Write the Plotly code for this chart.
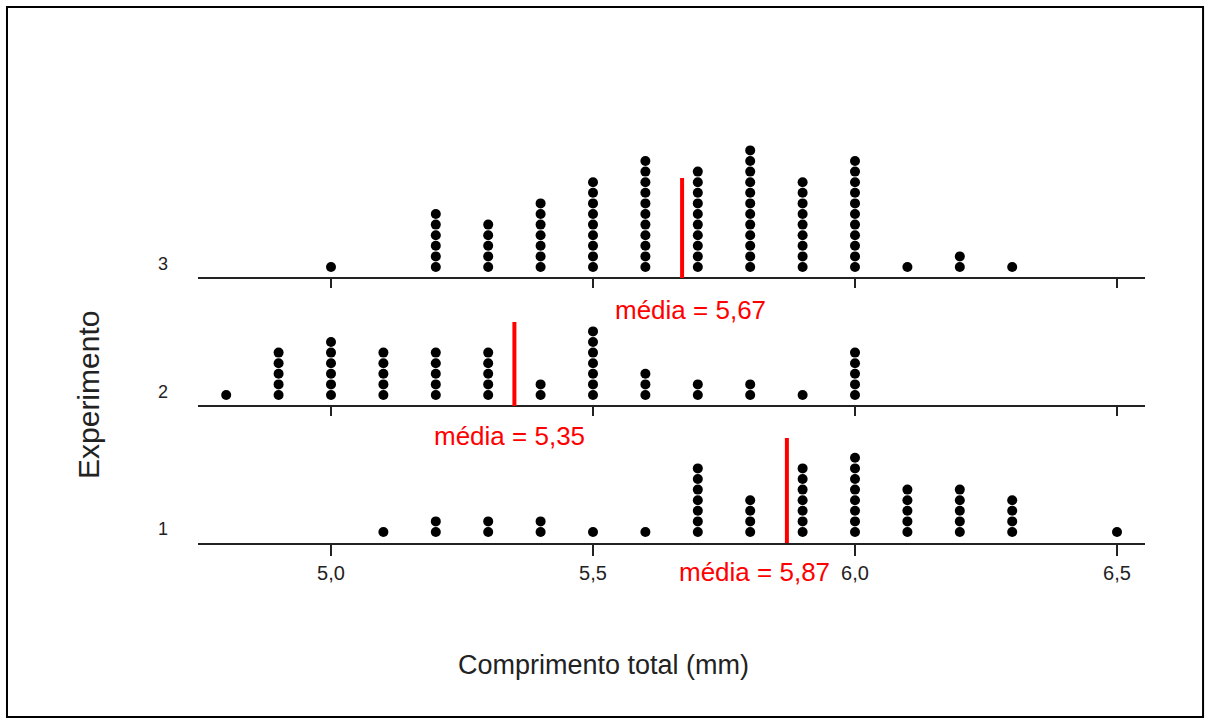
import plotly.graph_objects as go

# ---- data ----
values = [4.8, 4.9, 5.0, 5.1, 5.2, 5.3, 5.4, 5.5, 5.6, 5.7, 5.8, 5.9, 6.0, 6.1, 6.2, 6.3, 6.4, 6.5]
counts_exp1 = [0, 0, 0, 1, 2, 2, 2, 1, 1, 7, 4, 7, 8, 5, 5, 4, 0, 1]
counts_exp2 = [1, 5, 6, 5, 5, 5, 2, 7, 3, 2, 2, 1, 5, 0, 0, 0, 0, 0]
counts_exp3 = [0, 0, 1, 0, 6, 5, 7, 9, 11, 10, 12, 9, 11, 1, 2, 1, 0, 0]
means = [5.87, 5.35, 5.67]
mean_labels = ["média = 5,87", "média = 5,35", "média = 5,67"]
row_labels = ["1", "2", "3"]
tick_vals = [5.0, 5.5, 6.0, 6.5]
tick_text = ["5,0", "5,5", "6,0", "6,5"]

# ---- layout constants (pixel-like units on the y axis) ----
row_base = [0, 137, 265]
dot_offset = 11
dot_step = 10.6
mean_line_h = [105, 84, 100]
XR = [4.7462, 6.5534]
YR = [0, 443]
FONT = "Liberation Sans, Arial, sans-serif"

fig = go.Figure()

for counts, base in zip([counts_exp1, counts_exp2, counts_exp3], row_base):
    xs, ys = [], []
    for v, c in zip(values, counts):
        for k in range(c):
            xs.append(v)
            ys.append(base + dot_offset + k * dot_step)
    fig.add_trace(go.Scatter(x=xs, y=ys, mode="markers",
                             marker=dict(size=10, color="black"),
                             showlegend=False, hoverinfo="skip"))

# baselines for rows 2 and 3 and their tick marks
lx, ly = [], []
for base in row_base[1:]:
    lx += [XR[0], XR[1], None]
    ly += [base, base, None]
    for t in tick_vals:
        lx += [t, t, None]
        ly += [base, base - 10, None]
fig.add_trace(go.Scatter(x=lx, y=ly, mode="lines",
                         line=dict(color="#222", width=2),
                         showlegend=False, hoverinfo="skip"))

# mean lines
mx, my = [], []
for m, base, h in zip(means, row_base, mean_line_h):
    mx += [m, m, None]
    my += [base, base + h, None]
fig.add_trace(go.Scatter(x=mx, y=my, mode="lines",
                         line=dict(color="#ff0000", width=4),
                         showlegend=False, hoverinfo="skip"))

annotations = []
shifts = [-32, -5, 8]
offs = [-29, -30, -32]
for m, base, lab, xs_, off in zip(means, row_base, mean_labels, shifts, offs):
    annotations.append(dict(x=m, y=(base + off) / YR[1], yref="paper",
                            text=lab, showarrow=False,
                            xshift=xs_, xanchor="center", yanchor="middle",
                            font=dict(family=FONT, size=26, color="#ff0000")))
for base, lab in zip(row_base, row_labels):
    annotations.append(dict(x=-0.037, xref="paper", y=(base + 14) / YR[1],
                            yref="paper", text=lab, showarrow=False,
                            xanchor="center", yanchor="middle",
                            font=dict(family=FONT, size=18, color="#222")))
annotations.append(dict(x=0.4277, xref="paper", y=-0.275, yref="paper",
                        text="Comprimento total (mm)", showarrow=False,
                        xanchor="center", yanchor="middle",
                        font=dict(family=FONT, size=27, color="#222")))
annotations.append(dict(x=-0.1162, xref="paper", y=0.334, yref="paper",
                        text="Experimento", showarrow=False, textangle=-90,
                        xanchor="center", yanchor="middle",
                        font=dict(family=FONT, size=30, color="#222")))

fig.update_layout(
    width=1210, height=724,
    margin=dict(l=198, r=65, t=100, b=181),
    paper_bgcolor="white", plot_bgcolor="white",
    xaxis=dict(range=XR, showgrid=False, zeroline=False, showline=True,
               linecolor="#222", linewidth=2, ticks="outside", ticklen=11,
               tickwidth=1.5, tickcolor="#222",
               tickvals=tick_vals, ticktext=tick_text,
               tickfont=dict(family=FONT, size=20, color="#222")),
    yaxis=dict(range=YR, showgrid=False, zeroline=False,
               showline=False, showticklabels=False, ticks=""),
    annotations=annotations,
    shapes=[dict(type="rect", xref="paper", yref="paper",
                 x0=-0.2017, x1=1.0613, y0=-0.3928, y1=1.2099,
                 line=dict(color="black", width=2))],
)

fig.write_html("out.html")
